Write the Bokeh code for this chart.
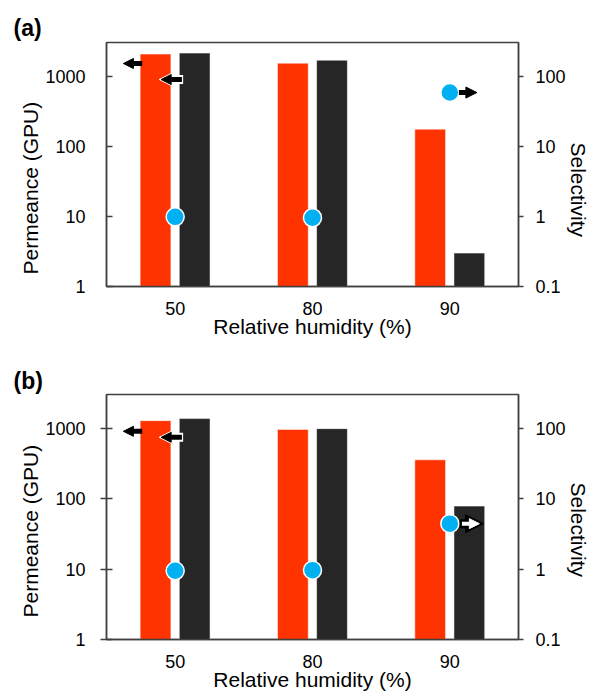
import numpy as np
from bokeh.plotting import figure
from bokeh.models import (Range1d, LogScale, LogAxis, FixedTicker, PrintfTickFormatter,
                          CustomJSTickFormatter, Arrow, NormalHead, Title)
from bokeh.layouts import column
from bokeh.embed import file_html
from bokeh.resources import INLINE

# ---------------- data ----------------
humidity = ["50", "80", "90"]          # relative humidity (%)

# panel (a)
perm_red_a = [2090, 1550, 177]         # permeance (GPU), red bars
perm_black_a = [2160, 1710, 3.0]       # permeance (GPU), dark bars
sel_a = [0.99, 0.96, 59]               # selectivity (right axis)

# panel (b)
perm_red_b = [1300, 975, 360]
perm_black_b = [1390, 1000, 79]
sel_b = [0.95, 0.97, 4.45]

left_ticks = [1, 10, 100, 1000]
right_ticks = [0.1, 1, 10, 100]

# arrow annotations (y on permeance axis for the two left arrows)
arrow_y_a = [1534, 906]
arrow_y_b = [916, 753]

FONT = "Liberation Sans"
RED = "#FF3300"
DARK = "#262626"
BLUE = "#00B0F0"
AXC = "#404040"


def style_axis(ax):
    ax.axis_line_color = AXC
    ax.axis_line_width = 1.5
    ax.major_tick_line_color = AXC
    ax.major_tick_line_width = 1.5
    ax.minor_tick_line_color = None
    ax.major_label_text_font = FONT
    ax.major_label_text_font_size = "18px"
    ax.major_label_text_color = "black"
    ax.axis_label_text_font = FONT
    ax.axis_label_text_font_size = "21px"
    ax.axis_label_text_font_style = "normal"
    ax.axis_label_text_color = "black"


def side_title(text, offset, standoff):
    return Title(text=text, align="left", offset=offset, standoff=standoff,
                 text_font=FONT, text_font_size="21px", text_font_style="normal",
                 text_color="black")


def make_panel(label, red, black, sel, arrow_y, hollow, height, btop, bbot, left_out, tstand,
               loff, roff):
    p = figure(width=589, height=height, x_range=Range1d(0, 3), y_range=Range1d(1, 3060),
               y_axis_type="log", output_backend="svg", toolbar_location=None,
               min_border_left=106, min_border_right=68, min_border_top=btop,
               min_border_bottom=bbot, title=label)
    p.extra_y_ranges = {"sel": Range1d(0.1, 306)}
    p.extra_y_scales = {"sel": LogScale()}

    idx = np.arange(len(humidity))
    xc = idx + 0.5
    p.vbar(x=xc - 0.143, top=red, bottom=1, width=0.224, fill_color=RED,
           line_color="white", line_alpha=0.5, line_width=1)
    p.vbar(x=xc + 0.142, top=black, bottom=1, width=0.224, fill_color=DARK,
           line_color="white", line_alpha=0.5, line_width=1)

    # arrows pointing to the left axis
    x50 = xc[0]
    p.add_layout(Arrow(end=NormalHead(size=10, fill_color="black", line_color="black"),
                       x_start=x50 - 0.24, x_end=x50 - 0.377, y_start=arrow_y[0], y_end=arrow_y[0],
                       line_width=5, line_color="black"))
    p.add_layout(Arrow(end=NormalHead(size=16, fill_color="white", line_color="white"),
                       x_start=x50 + 0.058, x_end=x50 - 0.116, y_start=arrow_y[1], y_end=arrow_y[1],
                       line_width=9, line_color="white"))
    p.add_layout(Arrow(end=NormalHead(size=10, fill_color="black", line_color="black"),
                       x_start=x50 + 0.049, x_end=x50 - 0.102, y_start=arrow_y[1], y_end=arrow_y[1],
                       line_width=5, line_color="black"))

    # selectivity dots
    p.scatter(x=xc, y=sel, y_range_name="sel", size=18, fill_color=BLUE,
              line_color="white", line_width=1.5)

    # arrow pointing to the right axis
    x90 = xc[2]
    ys = sel[2]
    if hollow:
        p.add_layout(Arrow(end=NormalHead(size=18, fill_color="black", line_color="black"),
                           x_start=x90 + 0.072, x_end=x90 + 0.245, y_start=ys, y_end=ys,
                           line_width=9, line_color="black", y_range_name="sel"))
        p.add_layout(Arrow(end=NormalHead(size=10, fill_color="white", line_color="white"),
                           x_start=x90 + 0.088, x_end=x90 + 0.215, y_start=ys, y_end=ys,
                           line_width=4, line_color="white", y_range_name="sel"))
    else:
        p.add_layout(Arrow(end=NormalHead(size=11, fill_color="black", line_color="black"),
                           x_start=x90 + 0.066, x_end=x90 + 0.197, y_start=ys, y_end=ys,
                           line_width=5, line_color="black", y_range_name="sel"))

    # axes
    p.xaxis.ticker = FixedTicker(ticks=list(xc))
    p.xaxis.major_label_overrides = {float(x): h for x, h in zip(xc, humidity)}
    p.xaxis.axis_label = "Relative humidity (%)"
    style_axis(p.xaxis[0])
    p.xaxis.major_tick_line_color = None
    p.xaxis.major_label_standoff = 9
    p.xaxis.axis_label_standoff = -3

    p.yaxis.ticker = FixedTicker(ticks=left_ticks, minor_ticks=[])
    p.yaxis.formatter = PrintfTickFormatter(format="%d")
    style_axis(p.yaxis[0])
    p.yaxis.major_tick_in = 6
    p.yaxis.major_tick_out = left_out
    p.yaxis.major_label_standoff = 21 - left_out
    p.add_layout(side_title("Permeance (GPU)", loff, 2), "left")

    ra = LogAxis(y_range_name="sel",
                 ticker=FixedTicker(ticks=right_ticks, minor_ticks=[]),
                 formatter=CustomJSTickFormatter(code="return tick < 1 ? tick.toFixed(1) : tick.toFixed(0);"))
    style_axis(ra)
    ra.major_tick_in = 0
    ra.major_tick_out = 5
    ra.major_label_standoff = 12
    p.add_layout(ra, "right")
    p.add_layout(side_title("Selectivity", roff, -4), "right")

    p.xgrid.grid_line_color = None
    p.ygrid.grid_line_color = None
    p.outline_line_color = AXC
    p.outline_line_width = 1.5
    p.outline_line_alpha = 1

    p.title.text_font = FONT
    p.title.text_font_size = "23px"
    p.title.text_font_style = "bold"
    p.title.text_color = "black"
    p.title.align = "left"
    p.title.offset = -93
    p.title.standoff = tstand
    return p


pa = make_panel("(a)", perm_red_a, perm_black_a, sel_a, arrow_y_a, False, 346, 42, 60, 0, 4, 12, 100)
pb = make_panel("(b)", perm_red_b, perm_black_b, sel_b, arrow_y_b, True, 349, 48, 56, 6, 2, 22, 88)

layout = column(pa, pb)
open("out.html", "w").write(file_html(layout, INLINE))
